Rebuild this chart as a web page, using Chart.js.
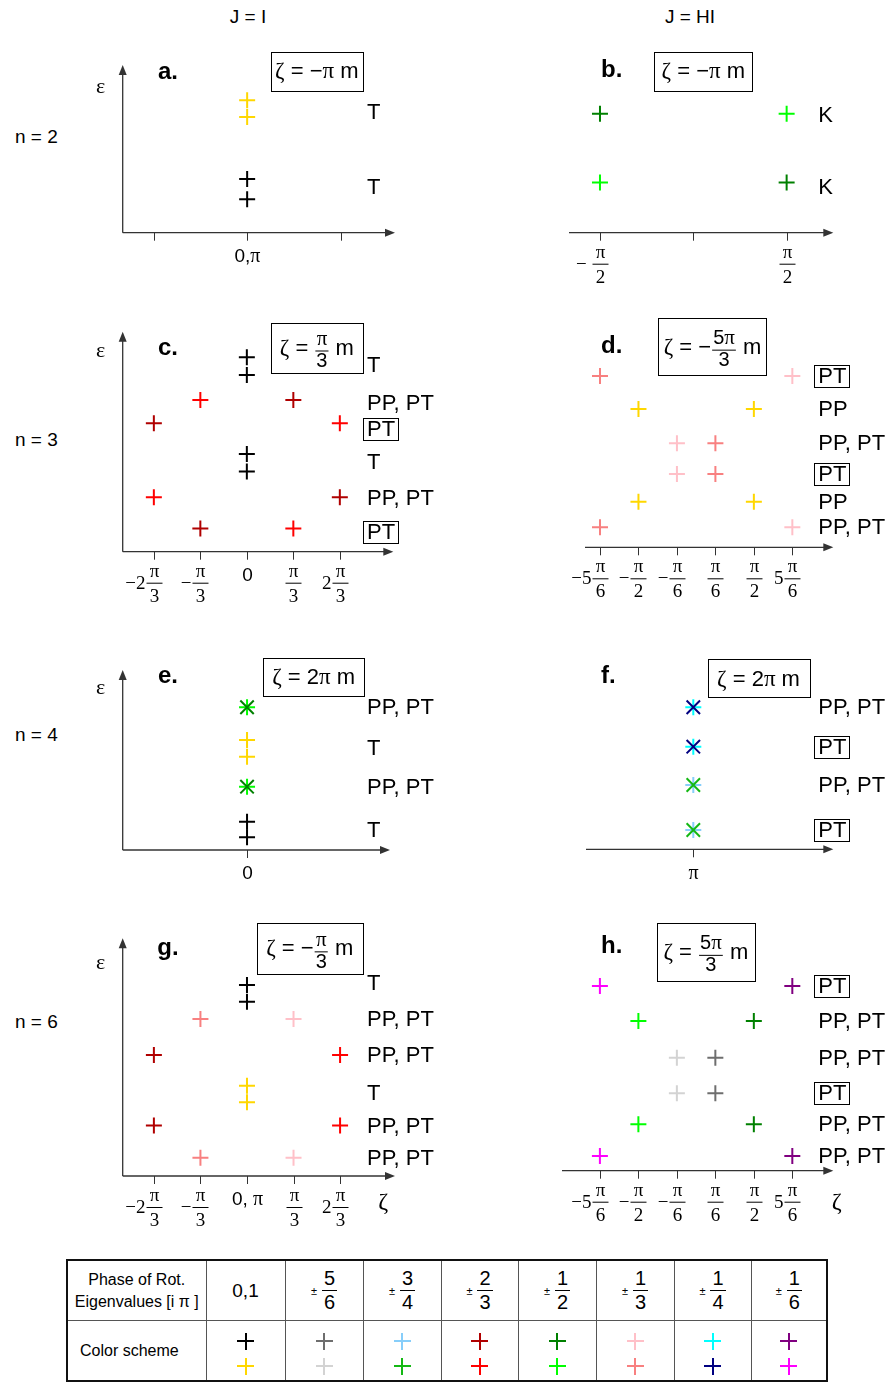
<!DOCTYPE html>
<html>
<head>
<meta charset="utf-8">
<script src="https://cdn.jsdelivr.net/npm/chart.js@4.4.1/dist/chart.umd.min.js"></script>
<style>
  body { margin: 0; width: 889px; height: 1384px; position: relative; overflow: hidden; background: #fff;
         font-family: "Liberation Sans", Arial, sans-serif; color: #000; }
  .lbl { position: absolute; font-size: 19px; transform: translate(-50%, -50%); white-space: nowrap; }
  .row { position: absolute; font-size: 19px; transform: translateY(-50%); white-space: nowrap; }
  #tbl { position: absolute; left: 66px; top: 1259px; border-collapse: collapse; table-layout: fixed;
         border: 2px solid #111; width: 762px; }
  #tbl td { border: 1px solid #555; text-align: center; padding: 0; height: 59px; vertical-align: middle; }
  #tbl td.hd { font-size: 16px; line-height: 22px; }
  #tbl td.cs { font-size: 16px; text-align: left; padding-left: 12px; }
  #tbl td.cc { padding-top: 6px; height: 53px; }
  .pm { font-size: 11px; vertical-align: middle; margin-right: 5px; }
  .fr { display: inline-block; vertical-align: middle; font-size: 20px; line-height: 23px; }
  .fr span { display: block; padding: 0 2px; }
  .fr span:first-child { border-bottom: 1px solid #000; }
  .x { display: block; width: 17px; height: 17px; margin: 0 auto;
       background: linear-gradient(var(--c), var(--c)) center / 2px 100% no-repeat,
                   linear-gradient(var(--c), var(--c)) center / 100% 2px no-repeat; }
  .x + .x { margin-top: 8px; }
</style>
</head>
<body>
<div class="lbl" style="left:248px;top:17px">J = I</div>
<div class="lbl" style="left:690px;top:17px">J = HI</div>
<div class="row" style="left:15px;top:137px">n = 2</div>
<div class="row" style="left:15px;top:440px">n = 3</div>
<div class="row" style="left:15px;top:735px">n = 4</div>
<div class="row" style="left:15px;top:1022px">n = 6</div>
<table id="tbl"></table>
<script>
// points: [zeta, epsilon, phase class, marker]
const aPoints = [[0, 79, '0y'], [0, 69, '0y'], [0, 32, '0k'], [0, 20, '0k']];
const bPoints = [[-0.5, 71, '12d'], [0.5, 71, '12l'], [-0.5, 30, '12l'], [0.5, 30, '12d']];
const cPoints = [
  [0, 88.4, '0k'], [0, 80.3, '0k'], [-1, 69, '23r'], [1, 69, '23d'],
  [-2, 58.4, '23d'], [2, 58.4, '23r'], [0, 44.4, '0k'], [0, 36.4, '0k'],
  [-2, 24.7, '23r'], [2, 24.7, '23d'], [-1, 10.6, '23d'], [1, 10.6, '23r']
];
const dPoints = [
  [-5, 77.9, '13s'], [5, 77.9, '13p'], [-3, 62.9, '0y'], [3, 62.9, '0y'],
  [-1, 47.3, '13p'], [1, 47.3, '13s'], [-1, 33.3, '13p'], [1, 33.3, '13s'],
  [-3, 20.7, '0y'], [3, 20.7, '0y'], [-5, 9.1, '13s'], [5, 9.1, '13p']
];
const ePoints = [
  [0, 79.3, '12l', '+'], [0, 79.3, '12d', 'x'], [0, 61.1, '0y'], [0, 51.8, '0y'],
  [0, 35.2, '12l', '+'], [0, 35.2, '12d', 'x'], [0, 15.7, '0k'], [0, 7.1, '0k']
];
const fPoints = [
  [6, 78.9, '14c', '+'], [6, 78.9, '14n', 'x'], [6, 57, '14c', '+'], [6, 57, '14n', 'x'],
  [6, 35.7, '34b', '+'], [6, 35.7, '34g', 'x'], [6, 10.7, '34b', '+'], [6, 10.7, '34g', 'x']
];
const gPoints = [
  [0, 80.4, '0k'], [0, 73.3, '0k'], [-1, 66.1, '13s'], [1, 66.1, '13p'],
  [-2, 50.9, '23d'], [2, 50.9, '23r'], [0, 38, '0y'], [0, 31, '0y'],
  [-2, 21.2, '23d'], [2, 21.2, '23r'], [-1, 7.7, '13s'], [1, 7.7, '13p']
];
const hPoints = [
  [-5, 77.7, '16m'], [5, 77.7, '16p'], [-3, 63, '12l'], [3, 63, '12d'],
  [-1, 47.5, '56l'], [1, 47.5, '56d'], [-1, 32.6, '56l'], [1, 32.6, '56d'],
  [-3, 19.5, '12l'], [3, 19.5, '12d'], [-5, 6.2, '16m'], [5, 6.2, '16p']
];

// level labels on the right: [epsilon, text]; [..] means boxed
const aRows = [[72, 'T'], [27, 'T']];
const bRows = [[70, 'K'], [27, 'K']];
const cRows = [[85, 'T'], [67.5, 'PP, PT'], [56, '[PT]'], [41, 'T'], [24.3, 'PP, PT'], [9.1, '[PT]']];
const dRows = [[77.9, '[PT]'], [62.9, 'PP'], [47.3, 'PP, PT'], [33.3, '[PT]'], [20.7, 'PP'], [9.1, 'PP, PT']];
const eRows = [[79.3, 'PP, PT'], [56.5, 'T'], [34.8, 'PP, PT'], [11.1, 'T']];
const fRows = [[78.9, 'PP, PT'], [57, '[PT]'], [35.7, 'PP, PT'], [10.7, '[PT]']];
const gRows = [[81.1, 'T'], [66.1, 'PP, PT'], [50.9, 'PP, PT'], [34.9, 'T'], [21.2, 'PP, PT'], [7.7, 'PP, PT']];
const hRows = [[77.7, '[PT]'], [63, 'PP, PT'], [47.5, 'PP, PT'], [32.6, '[PT]'], [19.5, 'PP, PT'], [6.2, 'PP, PT']];

// x ticks: [value, label]
const aTicks = [[-1, ''], [0, '0,π'], [1, '']];
const bTicks = [[-0.5, '− π/2'], [0, ''], [0.5, 'π/2']];
const cTicks = [[-2, '−2π/3'], [-1, '−π/3'], [0, '0'], [1, 'π/3'], [2, '2π/3']];
const dTicks = [[-5, '−5π/6'], [-3, '−π/2'], [-1, '−π/6'], [1, 'π/6'], [3, 'π/2'], [5, '5π/6']];
const eTicks = [[0, '0']];
const fTicks = [[6, 'π']];
const gTicks = [[-2, '−2π/3'], [-1, '−π/3'], [0, '0, π'], [1, 'π/3'], [2, '2π/3']];
const hTicks = [[-5, '−5π/6'], [-3, '−π/2'], [-1, '−π/6'], [1, 'π/6'], [3, 'π/2'], [5, '5π/6']];

const titles = ['ζ = −π m', 'ζ = −π m', 'ζ = {π/3} m', 'ζ = −{5π/3} m', 'ζ = 2π m', 'ζ = 2π m', 'ζ = −{π/3} m', 'ζ = {5π/3} m'];

// table
const phaseText = ['0,1', '5/6', '3/4', '2/3', '1/2', '1/3', '1/4', '1/6'];
const phasePairs = [['0k', '0y'], ['56d', '56l'], ['34b', '34g'], ['23d', '23r'], ['12d', '12l'], ['13p', '13s'], ['14c', '14n'], ['16p', '16m']];

const COLORS = {
  '0k': '#000000', '0y': '#FFD700', '56d': '#6E6E6E', '56l': '#D3D3D3',
  '34b': '#87CEFA', '34g': '#14B814', '23d': '#B00000', '23r': '#FF0000',
  '12d': '#008000', '12l': '#00FF00', '13p': '#FFC0C8', '13s': '#F88080',
  '14c': '#00FFFF', '14n': '#000080', '16p': '#800080', '16m': '#FF00FF'
};

const SANS = '"Liberation Sans", Arial, sans-serif';
const SERIF = '"Liberation Serif", "Times New Roman", serif';
const GREEK = /[ζπε]/;
const AXIS = '#333';

function runs(s) {
  const out = [];
  for (const ch of s) {
    const g = GREEK.test(ch);
    if (out.length && out[out.length - 1].g === g) out[out.length - 1].t += ch;
    else out.push({ t: ch, g });
  }
  return out;
}
function setFont(ctx, g, size) { ctx.font = g ? (size + 1) + 'px ' + SERIF : size + 'px ' + SANS; }
function measureMixed(ctx, s, size) {
  let w = 0;
  for (const r of runs(s)) { setFont(ctx, r.g, size); w += ctx.measureText(r.t).width; }
  return w;
}
function drawMixed(ctx, s, x, y, size) {
  ctx.textAlign = 'left'; ctx.textBaseline = 'middle';
  for (const r of runs(s)) { setFont(ctx, r.g, size); ctx.fillText(r.t, x, y); x += ctx.measureText(r.t).width; }
  return x;
}

function arrow(ctx, xa, ya, xb, yb) {
  const ang = Math.atan2(yb - ya, xb - xa), L = 10, W = 4;
  ctx.beginPath(); ctx.moveTo(xa, ya); ctx.lineTo(xb - Math.cos(ang) * 8, yb - Math.sin(ang) * 8); ctx.stroke();
  ctx.beginPath(); ctx.moveTo(xb, yb);
  ctx.lineTo(xb - L * Math.cos(ang) + W * Math.sin(ang), yb - L * Math.sin(ang) - W * Math.cos(ang));
  ctx.lineTo(xb - L * Math.cos(ang) - W * Math.sin(ang), yb - L * Math.sin(ang) + W * Math.cos(ang));
  ctx.closePath(); ctx.fill();
}

function tickLabel(ctx, s, x, y) {
  ctx.fillStyle = '#000';
  const m = s.match(/^(.*)π\/(\d+)$/);
  if (m) {
    ctx.font = '19px ' + SERIF; ctx.textAlign = 'center'; ctx.textBaseline = 'middle';
    ctx.fillText('π', x, y + 20);
    ctx.fillText(m[2], x, y + 45);
    ctx.fillRect(x - 8, y + 31, 16, 1);
    if (m[1]) {
      ctx.font = '19px ' + SERIF; ctx.textAlign = 'right';
      ctx.fillText(m[1], x - 9, y + 32);
    }
  } else if (s) {
    const w = measureMixed(ctx, s, 19);
    drawMixed(ctx, s, x - w / 2, y + 24, 19);
  }
}

function drawTitle(ctx, s, box) {
  const [x0, y0, x1, y1] = box;
  ctx.strokeStyle = '#000'; ctx.lineWidth = 1;
  ctx.strokeRect(Math.round(x0) + 0.5, Math.round(y0) + 0.5, Math.round(x1 - x0), Math.round(y1 - y0));
  const cx = (x0 + x1) / 2, cy = (y0 + y1) / 2;
  const SZ = 22, FS = 20;
  const segs = s.split(/(\{[^}]*\})/).filter(Boolean).map(sg => {
    if (sg[0] === '{') {
      const [n, d] = sg.slice(1, -1).split('/');
      const w = Math.max(measureMixed(ctx, n, FS), measureMixed(ctx, d, FS)) + 4;
      return { n, d, w };
    }
    return { t: sg, w: measureMixed(ctx, sg, SZ) };
  });
  let x = cx - segs.reduce((a, b) => a + b.w, 0) / 2;
  ctx.fillStyle = '#000';
  for (const sg of segs) {
    if (sg.t !== undefined) drawMixed(ctx, sg.t, x, cy + 1, SZ);
    else {
      const mid = x + sg.w / 2;
      drawMixed(ctx, sg.n, mid - measureMixed(ctx, sg.n, FS) / 2, cy - 8, FS);
      drawMixed(ctx, sg.d, mid - measureMixed(ctx, sg.d, FS) / 2, cy + 14, FS);
      ctx.fillRect(x + 1, cy + 3, sg.w - 2, 1);
    }
    x += sg.w;
  }
}

function decorate(chart, p) {
  const ctx = chart.ctx;
  const [l, t] = p.cv;
  const ca = chart.chartArea;
  const x0 = ca.left + l, x1 = ca.right + l, y0 = ca.top + t, y1 = ca.bottom + t;
  const sx = chart.scales.x, sy = chart.scales.y;
  ctx.save();
  ctx.translate(-l, -t);
  ctx.strokeStyle = AXIS; ctx.fillStyle = AXIS; ctx.lineWidth = 1.3;
  arrow(ctx, x0, y1, x1, y1);
  if (p.yAxis) arrow(ctx, x0, y1, x0, y0);
  p.ticks.forEach(([v, s]) => {
    const px = Math.round(sx.getPixelForValue(v) + l) + 0.5;
    ctx.strokeStyle = AXIS; ctx.lineWidth = 1;
    ctx.beginPath(); ctx.moveTo(px, y1); ctx.lineTo(px, y1 + 8); ctx.stroke();
    tickLabel(ctx, s, px, y1);
  });
  // level labels
  p.rows.forEach(([e, s]) => {
    const y = sy.getPixelForValue(e) + t;
    const boxed = s[0] === '[';
    const txt = boxed ? s.slice(1, -1) : s;
    ctx.fillStyle = '#000';
    ctx.font = '22px ' + SANS; ctx.textAlign = 'left'; ctx.textBaseline = 'middle';
    ctx.fillText(txt, p.labelX, y + 1);
    if (boxed) {
      const w = ctx.measureText(txt).width;
      ctx.strokeStyle = '#000'; ctx.lineWidth = 1;
      ctx.strokeRect(Math.round(p.labelX - 4) + 0.5, Math.round(y - 11) + 0.5, Math.round(w + 7), 22);
    }
  });
  ctx.fillStyle = '#000';
  ctx.font = 'bold 24px ' + SANS; ctx.textAlign = 'center'; ctx.textBaseline = 'middle';
  ctx.fillText(p.key + '.', p.letter[0], p.letter[1]);
  if (p.eps) {
    ctx.font = '22px ' + SERIF;
    ctx.fillText('ε', p.eps[0], p.eps[1]);
  }
  if (p.zeta) {
    ctx.font = '24px ' + SERIF;
    ctx.fillText('ζ', p.zeta[0], p.zeta[1]);
  }
  drawTitle(ctx, p.title, p.box);
  ctx.restore();
}

const panels = [
  { key: 'a', pts: aPoints, rows: aRows, ticks: aTicks, title: titles[0], cv: [90, 40, 355, 250],
    area: [122.7, 65, 395, 232.7], xr: [-1.33, 1.58], yAxis: true, letter: [168, 72],
    box: [271, 51.7, 362.7, 90.7], eps: [100.7, 87], labelX: 367 },
  { key: 'b', pts: bPoints, rows: bRows, ticks: bTicks, title: titles[1], cv: [560, 40, 329, 250],
    area: [569, 65, 833.3, 232.7], xr: [-0.666, 0.75], yAxis: false, letter: [611.7, 70],
    box: [654.3, 51.7, 752.3, 90.7], labelX: 818.3 },
  { key: 'c', pts: cPoints, rows: cRows, ticks: cTicks, title: titles[2], cv: [90, 310, 355, 300],
    area: [122.7, 331.7, 393.3, 551.7], xr: [-2.67, 3.15], yAxis: true, letter: [168, 348.3],
    box: [271, 322.7, 362.7, 372.3], eps: [100.7, 351.7], labelX: 367 },
  { key: 'd', pts: dPoints, rows: dRows, ticks: dTicks, title: titles[3], cv: [560, 310, 329, 300],
    area: [585, 327.3, 833.3, 547.3], xr: [-5.78, 7.13], yAxis: false, letter: [611.7, 346.7],
    box: [658.3, 318.3, 766.7, 375], labelX: 818.3 },
  { key: 'e', pts: ePoints, rows: eRows, ticks: eTicks, title: titles[4], cv: [90, 640, 355, 250],
    area: [122.7, 670, 390, 850], xr: [-2.67, 3.07], yAxis: true, letter: [168, 676],
    box: [263.3, 658.3, 364, 696], eps: [100.7, 688.3], labelX: 367 },
  { key: 'f', pts: fPoints, rows: fRows, ticks: fTicks, title: titles[5], cv: [560, 640, 329, 250],
    area: [586, 669.3, 833.3, 849.3], xr: [0.42, 13.28], yAxis: false, letter: [608.3, 676.7],
    box: [707.7, 659.3, 809.3, 697.7], labelX: 818.3 },
  { key: 'g', pts: gPoints, rows: gRows, ticks: gTicks, title: titles[6], cv: [90, 915, 355, 325],
    area: [122.7, 938.3, 395, 1176], xr: [-2.67, 3.18], yAxis: true, letter: [168, 948.3],
    box: [256.7, 922.7, 362.7, 974], eps: [100.7, 963.3], zeta: [383.3, 1203], labelX: 367 },
  { key: 'h', pts: hPoints, rows: hRows, ticks: hTicks, title: titles[7], cv: [555, 915, 334, 325],
    area: [562, 933, 833.3, 1170.7], xr: [-6.97, 7.13], yAxis: false, letter: [611.7, 946.7],
    box: [656.7, 922.7, 755, 981], zeta: [836.7, 1203], labelX: 818.3 }
];

panels.forEach(p => {
  const [l, t, w, h] = p.cv;
  const [x0, y0, x1, y1] = p.area;
  const cv = document.createElement('canvas');
  cv.width = w; cv.height = h;
  cv.style.cssText = `position:absolute;left:${l}px;top:${t}px;width:${w}px;height:${h}px`;
  document.body.appendChild(cv);
  new Chart(cv, {
    type: 'scatter',
    data: {
      datasets: [{
        data: p.pts.map(q => ({ x: q[0], y: q[1], phase: q[2], mark: q[3] || '+' })),
        pointStyle: c => (c.raw && c.raw.mark === 'x' ? 'crossRot' : 'cross'),
        pointRadius: c => (c.raw && c.raw.mark === 'x' ? 9.5 : 8),
        pointBorderColor: c => (c.raw ? COLORS[c.raw.phase] : '#000'),
        pointBackgroundColor: c => (c.raw ? COLORS[c.raw.phase] : '#000'),
        pointBorderWidth: 2,
        showLine: false,
        clip: false
      }]
    },
    options: {
      responsive: false,
      animation: false,
      devicePixelRatio: 1,
      events: [],
      layout: { autoPadding: false, padding: { left: x0 - l, top: y0 - t, right: l + w - x1, bottom: t + h - y1 } },
      plugins: { legend: { display: false }, tooltip: { enabled: false } },
      scales: {
        x: { type: 'linear', display: false, min: p.xr[0], max: p.xr[1] },
        y: { type: 'linear', display: false, min: 0, max: 100 }
      }
    },
    plugins: [{ id: 'decor' + p.key, afterDatasetsDraw(chart) { decorate(chart, p); } }]
  });
});

// colour scheme table
const colW = [139, 79, 78, 78, 77, 78, 78, 77, 76];
let html = '<colgroup>' + colW.map(w => `<col style="width:${w}px">`).join('') + '</colgroup>';
html += '<tr><td class="hd">Phase of Rot.<br>Eigenvalues [i π ]</td>';
phaseText.forEach(s => {
  if (s.includes('/')) {
    const [n, d] = s.split('/');
    html += `<td><span class="pm">±</span><span class="fr"><span>${n}</span><span>${d}</span></span></td>`;
  } else html += `<td style="font-size:19px">${s}</td>`;
});
html += '</tr><tr><td class="cs">Color scheme</td>';
phasePairs.forEach(pr => {
  html += '<td class="cc">' + pr.map(k => `<span class="x" style="--c:${COLORS[k]}"></span>`).join('') + '</td>';
});
html += '</tr>';
document.getElementById('tbl').innerHTML = html;
</script>
</body>
</html>
